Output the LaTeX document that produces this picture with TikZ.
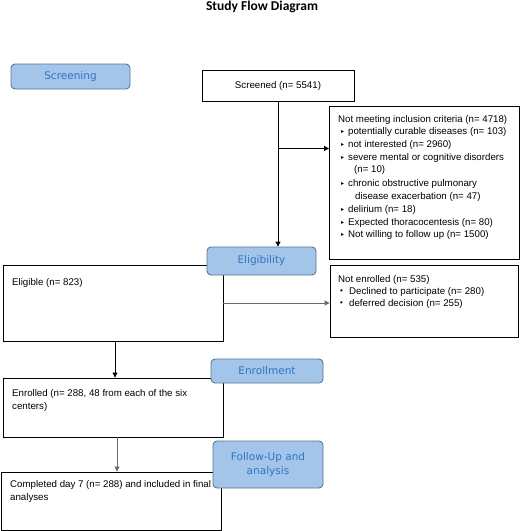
\documentclass[tikz,border=0pt]{standalone}
\usepackage{fontspec}
\setmainfont{Liberation Sans}
\newfontfamily\labelfont{DejaVu Sans}
\newfontfamily\titlefont{Carlito}
\newfontfamily\symfont{DejaVu Sans}
\usetikzlibrary{arrows.meta}
\definecolor{phasefill}{HTML}{A4C5EA}
\definecolor{phasedraw}{HTML}{5B7390}
\definecolor{phasetext}{HTML}{2E75C0}
\definecolor{linegray}{HTML}{6A6A6A}
\tikzset{
 box/.style={draw=black, line width=0.9pt, inner sep=0pt, rectangle, font=\fontsize{9.7}{12}\selectfont},
 phase/.style={draw=phasedraw, fill=phasefill, rounded corners=4pt, line width=0.9pt, text=phasetext, font=\labelfont\fontsize{10.5}{14}\selectfont, align=center, inner sep=0pt},
 txt/.style={anchor=west, inner sep=0pt, font=\fontsize{9.7}{12}\selectfont},
 bul/.style={anchor=west, inner sep=0pt, font=\symfont\fontsize{6}{8}\selectfont},
 dot/.style={anchor=west, inner sep=0pt, font=\fontsize{8}{8}\selectfont},
 conn/.style={line width=0.9pt, -{Triangle[length=5pt,width=5pt]}},
}
\begin{document}
\begin{tikzpicture}[x=1pt,y=-1pt]
\useasboundingbox (0,0) rectangle (521,531);
\node[font=\titlefont\bfseries\fontsize{13.5}{16}\selectfont] (title) at (262,7) {Study Flow Diagram};

% content boxes
\node[box, minimum width=152pt, minimum height=31pt] (screened) at (278,85.5) {Screened (n= 5541)};
\node[box, minimum width=190pt, minimum height=153pt] (notmeet) at (424.5,182.5) {};
\node[box, minimum width=220pt, minimum height=76pt] (eligible) at (113,303) {};
\node[box, minimum width=188pt, minimum height=72pt] (notenr) at (424,301) {};
\node[box, minimum width=220pt, minimum height=59pt] (enrolled) at (113,407.5) {};
\node[box, minimum width=220pt, minimum height=58pt] (completed) at (111,501) {};

% texts of the exclusion box
\node[txt] (t1) at (338,120) {Not meeting inclusion criteria (n= 4718)};
\node[bul] (b2) at (341,132) {▸};
\node[txt] (t2) at (348,132) {potentially curable diseases (n= 103)};
\node[bul] (b3) at (341,145) {▸};
\node[txt] (t3) at (348,145) {not interested (n= 2960)};
\node[bul] (b4) at (341,158) {▸};
\node[txt] (t4) at (348,158) {severe mental or cognitive disorders};
\node[txt] (t4b) at (354,170) {(n= 10)};
\node[bul] (b5) at (341,184) {▸};
\node[txt] (t5) at (348,184) {chronic obstructive pulmonary};
\node[txt] (t5b) at (355,197) {disease exacerbation (n= 47)};
\node[bul] (b6) at (341,210) {▸};
\node[txt] (t6) at (348,210) {delirium (n= 18)};
\node[bul] (b7) at (341,223) {▸};
\node[txt] (t7) at (348,223) {Expected thoracocentesis (n= 80)};
\node[bul] (b8) at (341,235) {▸};
\node[txt] (t8) at (348,235) {Not willing to follow up (n= 1500)};

% not enrolled box texts
\node[txt] (n1) at (338,280) {Not enrolled (n= 535)};
\node[dot] (nb2) at (340,292) {•};
\node[txt] (n2) at (349,292) {Declined to participate (n= 280)};
\node[dot] (nb3) at (340,304) {•};
\node[txt] (n3) at (349,304) {deferred decision (n= 255)};

% other texts
\node[txt] (e1) at (12,283) {Eligible (n= 823)};
\node[txt] (r1) at (12,394) {Enrolled (n= 288, 48 from each of the six};
\node[txt] (r2) at (12,407) {centers)};
\node[txt] (c1) at (10,485) {Completed day 7 (n= 288) and included in final};
\node[txt] (c2) at (10,498) {analyses};

% phase labels (on top)
\node[phase, minimum width=119pt, minimum height=25pt] (screening) at (70.5,76.5) {Screening};
\node[phase, minimum width=109pt, minimum height=28pt] (eligibility) at (261.5,261) {Eligibility};
\node[phase, minimum width=112pt, minimum height=24pt] (enrollment) at (267,371) {Enrollment};
\node[phase, minimum width=110pt, minimum height=47pt] (followup) at (268,464.5) {Follow-Up and\\analysis};

% connectors
\draw[conn] (screened.south) -- (screened.south |- eligibility.north);
\path (screened.south) ++(0,47) coordinate (branch);
\draw[conn] (branch) -- (branch -| notmeet.west);
\draw[conn, draw=linegray] (eligible.east) -- (eligible.east -| notenr.west);
\draw[conn] ([xshift=2pt]eligible.south) -- ([xshift=2pt]eligible.south |- enrolled.north);
\draw[conn, draw=linegray] ([xshift=4pt]enrolled.south) -- ([xshift=4pt]enrolled.south |- completed.north);
\end{tikzpicture}
\end{document}
